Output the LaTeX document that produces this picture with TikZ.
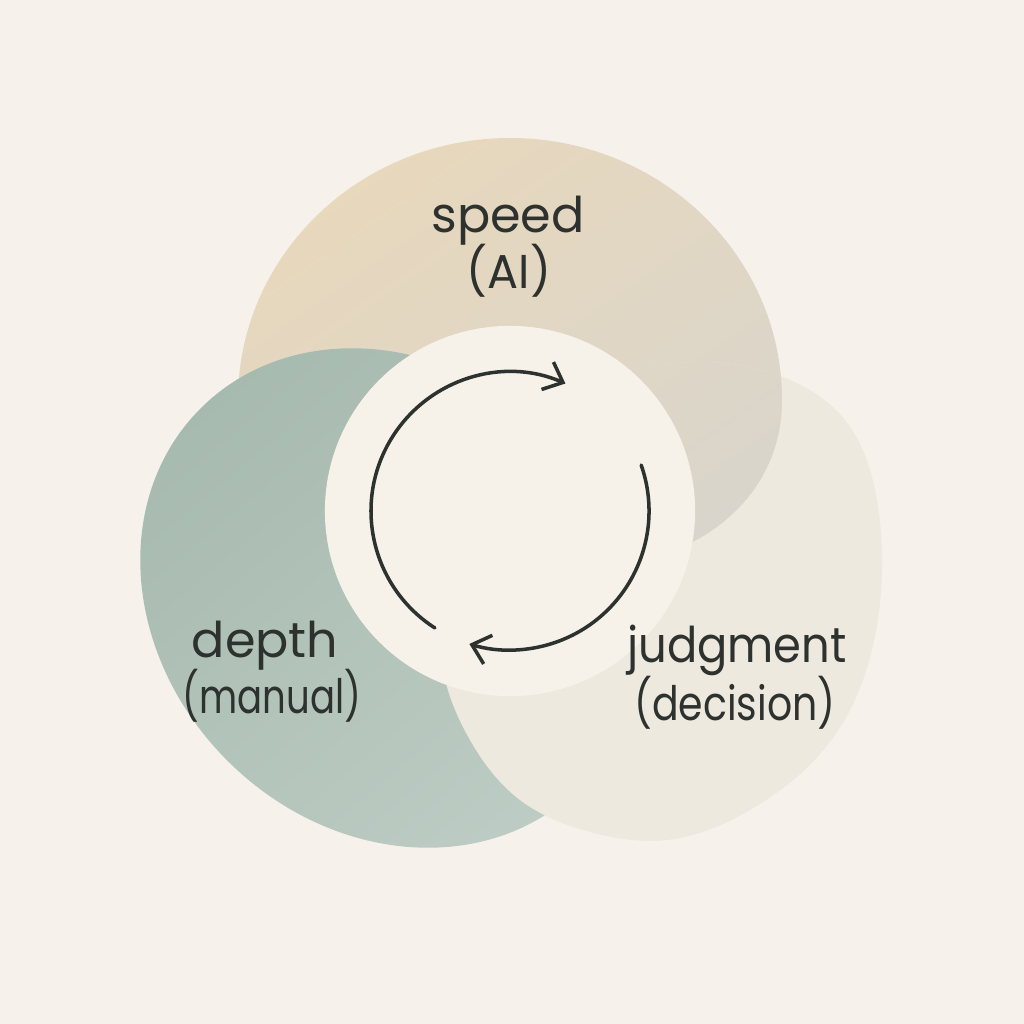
\documentclass[tikz,border=0pt]{standalone}
\usepackage{fontspec}
\usepackage{graphicx}
\setmainfont{Poppins}
\usetikzlibrary{arrows.meta,hobby}
\definecolor{bg}{HTML}{F6F2EB}
\definecolor{tanA}{HTML}{E8D8BC}
\definecolor{tanB}{HTML}{D9D5CC}
\definecolor{greenA}{HTML}{A7BAAF}
\definecolor{greenB}{HTML}{BDCCC4}
\definecolor{judg}{HTML}{EDE9DF}
\definecolor{hubc}{HTML}{F6F2EA}
\definecolor{ink}{HTML}{2E322F}
\begin{document}
\begin{tikzpicture}[x=0.01cm,y=-0.01cm,
  lbl/.style={font=\fontsize{14}{16}\selectfont, text=ink, anchor=base, inner sep=0pt},
  lbltwo/.style={font=\fontsize{13.5}{16}\selectfont, text=ink, anchor=base, inner sep=0pt},
  cyc/.style={line width=1pt, draw=ink, line cap=round, -{Straight Barb[length=4.8pt,width=8.5pt,line width=1pt]}},
  tanshade/.style={top color=tanA, middle color=tanA, bottom color=tanB, shading angle=35},
  greenshade/.style={top color=greenA, middle color=greenA, bottom color=greenB, shading angle=40}]
\fill[bg] (0,0) rectangle (1024,1024);
\useasboundingbox (0,0) rectangle (1024,1024);
% speed (tan) blob
\shade[tanshade] (782,400) arc[start angle=0, end angle=-180, x radius=272, y radius=262]
  .. controls (238,520) and (400,600) .. (520,590)
  .. controls (600,590) and (660,560) .. (700,538)
  .. controls (740,515) and (782,470) .. (782,400) -- cycle;
% depth (green) blob
\shade[greenshade, rotate around={-45:(390,598)}] (390,598) ellipse[x radius=268, y radius=230];
% judgment blob
\fill[judg, use Hobby shortcut, closed=true] (783,377) .. (845,420) .. (875,490) .. (882,567) .. (872,650) .. (835,735) .. (750,810) .. (667,840) .. (590,832) .. (520,800) .. (470,740) .. (447,687) .. (440,600) .. (480,480) .. (570,395) .. (690,362);
% tan over judgment
\begin{scope}
\clip[use Hobby shortcut, closed=true] (783,377) .. (845,420) .. (875,490) .. (882,567) .. (872,650) .. (835,735) .. (750,810) .. (667,840) .. (590,832) .. (520,800) .. (470,740) .. (447,687) .. (440,600) .. (480,480) .. (570,395) .. (690,362);
\shade[tanshade] (782,400) arc[start angle=0, end angle=-180, x radius=272, y radius=262]
  .. controls (238,520) and (400,600) .. (520,590)
  .. controls (600,590) and (660,560) .. (700,538)
  .. controls (740,515) and (782,470) .. (782,400) -- cycle;
\end{scope}
% hub
\node[circle, fill=hubc, minimum size=3.7cm, inner sep=0pt] (hub) at (510,511) {};
\draw[cyc] ([shift={(122.7:139)}]hub.center) arc[start angle=122.7, end angle=293.5, radius=139];
\draw[cyc] ([shift={(-19.3:139)}]hub.center) arc[start angle=-19.3, end angle=107, radius=139];
% labels
\node[lbl] (speed) at (508,232) {speed};
\node[lbltwo] (ai) at (509,288) {\scalebox{0.97}[1]{(AI)}};
\node[lbl] (depth) at (265,657) {depth};
\node[lbltwo] (manual) at (272,713) {\scalebox{0.78}[1]{(manual)}};
\node[lbl] (judgment) at (737,662) {\scalebox{0.91}[1]{judgment}};
\node[lbltwo] (decision) at (735,720) {\scalebox{0.83}[1]{(decision)}};
\end{tikzpicture}
\end{document}
